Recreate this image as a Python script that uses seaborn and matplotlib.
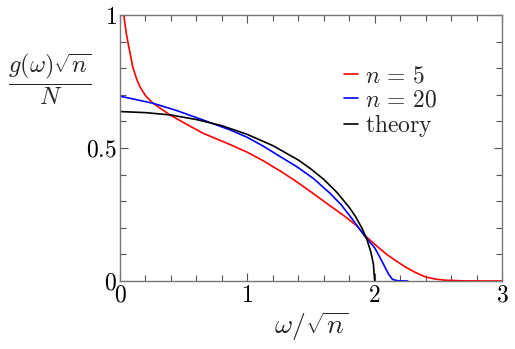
import numpy as np
import pandas as pd
import matplotlib
matplotlib.use("Agg")
import matplotlib.pyplot as plt
import seaborn as sns
from matplotlib.ticker import MultipleLocator

sns.set_theme(style="white")
plt.rcParams['mathtext.fontset'] = 'cm'
plt.rcParams['font.family'] = ['DejaVu Serif']

# n = 5 (red)
x_n5 = [0.025, 0.035, 0.05, 0.065, 0.08, 0.10, 0.13, 0.157, 0.20, 0.26, 0.393, 0.52, 0.654,
        0.864, 1.00, 1.125, 1.26, 1.388, 1.52, 1.649, 1.76, 1.859, 1.93, 2.02, 2.10, 2.17,
        2.24, 2.32, 2.40, 2.48, 2.55, 2.70, 3.00]
y_n5 = [1.02, 0.98, 0.93, 0.89, 0.855, 0.805, 0.76, 0.73, 0.697, 0.668, 0.624, 0.59, 0.555,
        0.513, 0.484, 0.452, 0.413, 0.373, 0.328, 0.283, 0.245, 0.208, 0.168, 0.13, 0.098, 0.075,
        0.053, 0.032, 0.015, 0.007, 0.003, 0.0005, 0.0]

# n = 20 (blue)
x_n20 = [0.0, 0.26, 0.45, 0.654, 0.864, 1.0, 1.125, 1.25, 1.388, 1.52, 1.649, 1.74, 1.83,
         1.92, 2.00, 2.04, 2.08, 2.11, 2.14, 2.18, 2.26]
y_n20 = [0.695, 0.668, 0.64, 0.605, 0.568, 0.54, 0.507, 0.47, 0.43, 0.385, 0.33, 0.285, 0.229,
         0.17, 0.125, 0.09, 0.053, 0.025, 0.006, 0.001, 0.0]

# theory (black)
x_th = [0.0, 0.2, 0.4, 0.6, 0.8, 1.0, 1.2, 1.4, 1.5, 1.6, 1.7, 1.8, 1.85, 1.9, 1.94, 1.97,
        1.99, 2.0]
y_th = [0.637, 0.633, 0.624, 0.607, 0.584, 0.551, 0.509, 0.455, 0.421, 0.382, 0.335, 0.277,
        0.242, 0.199, 0.155, 0.109, 0.064, 0.0]

labels = [r'$n\,=\,5$', r'$n\,=\,20$', r'$\mathrm{theory}$']

df = pd.concat([
    pd.DataFrame({'x': x_n5, 'y': y_n5, 's': labels[0]}),
    pd.DataFrame({'x': x_n20, 'y': y_n20, 's': labels[1]}),
    pd.DataFrame({'x': x_th, 'y': y_th, 's': labels[2]}),
])

fig = plt.figure(figsize=(5.15, 3.49), dpi=100)
ax = fig.add_axes([120/515, 1-281/349, (502-120)/515, (281-15)/349])

pal = {labels[0]: '#ff0000', labels[1]: '#0000ff', labels[2]: '#000000'}
sns.lineplot(data=df, x='x', y='y', hue='s', palette=pal, ax=ax, lw=1.2,
             sort=False, estimator=None)

ax.set_xlim(0, 3)
ax.set_ylim(0, 1)
ax.xaxis.set_minor_locator(MultipleLocator(0.2))
ax.yaxis.set_minor_locator(MultipleLocator(0.1))
ax.set_xticks([0, 1, 2, 3])
ax.set_xticklabels([r'$0$', r'$1$', r'$2$', r'$3$'])
ax.set_yticks([0, 0.5, 1])
ax.set_yticklabels([r'$0$', r'$0.5$', r'$1$'])
ax.tick_params(which='both', direction='in', top=True, right=True, bottom=True, left=True,
               width=0.8, labelsize=17)
ax.tick_params(which='both', colors='#555555', labelcolor='black')
ax.tick_params(which='major', length=6, pad=2)
ax.tick_params(which='minor', length=4)
for sp in ax.spines.values():
    sp.set_color('#777777')
    sp.set_linewidth(1.0)

ax.set_xlabel(r'$\omega/\sqrt{n}$', fontsize=20, labelpad=2)
ax.set_ylabel(r'$\dfrac{g(\omega)\sqrt{n}}{N}$', fontsize=17.5, rotation=0, labelpad=0,
              va='center', ha='center')
ax.yaxis.set_label_coords(-0.183, 0.757)

leg = ax.legend(loc='upper left', bbox_to_anchor=(0.556, 0.86), frameon=False, fontsize=17,
                handlelength=0.6, handletextpad=0.3, labelspacing=0.05, borderpad=0)
for line in leg.get_lines():
    line.set_linewidth(1.2)

fig.savefig('out.png', dpi=100)
